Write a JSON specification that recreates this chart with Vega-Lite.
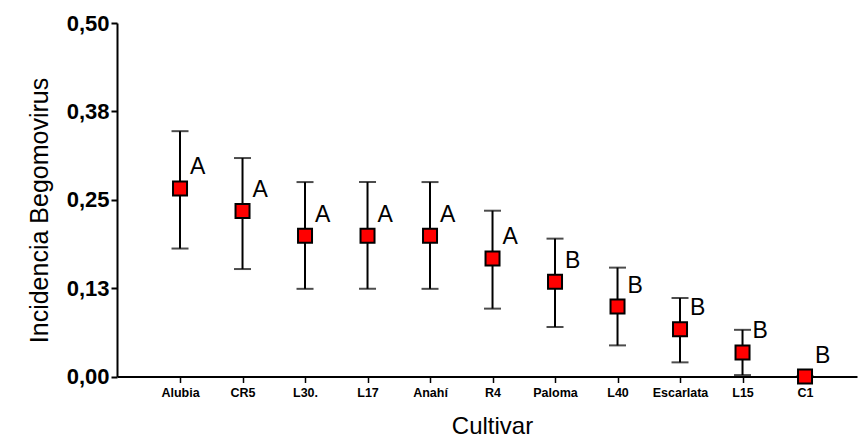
{
  "$schema": "https://vega.github.io/schema/vega-lite/v6.json",
  "autosize": {"type": "none"},
  "padding": {"left": 117, "top": 23, "right": 2, "bottom": 62},
  "width": 740,
  "height": 353.5,
  "background": "white",
  "config": {
    "view": {"stroke": null},
    "font": "Liberation Sans"
  },
  "data": {
    "values": [
      {"cultivar": "Alubia", "mean": 0.266, "lo": 0.181, "hi": 0.347, "group": "A"},
      {"cultivar": "CR5", "mean": 0.234, "lo": 0.152, "hi": 0.309, "group": "A"},
      {"cultivar": "L30.", "mean": 0.199, "lo": 0.124, "hi": 0.275, "group": "A"},
      {"cultivar": "L17", "mean": 0.199, "lo": 0.124, "hi": 0.275, "group": "A"},
      {"cultivar": "Anahí", "mean": 0.199, "lo": 0.124, "hi": 0.275, "group": "A"},
      {"cultivar": "R4", "mean": 0.167, "lo": 0.096, "hi": 0.2345, "group": "A"},
      {"cultivar": "Paloma", "mean": 0.134, "lo": 0.070, "hi": 0.195, "group": "B"},
      {"cultivar": "L40", "mean": 0.099, "lo": 0.044, "hi": 0.154, "group": "B"},
      {"cultivar": "Escarlata", "mean": 0.067, "lo": 0.020, "hi": 0.111, "group": "B"},
      {"cultivar": "L15", "mean": 0.034, "lo": 0.002, "hi": 0.066, "group": "B"},
      {"cultivar": "C1", "mean": 0.0, "lo": 0.0, "hi": 0.0, "group": "B"}
    ]
  },
  "encoding": {
    "x": {
      "field": "cultivar",
      "type": "nominal",
      "sort": null,
      "scale": {"type": "point", "padding": 0.92, "align": 0.548},
      "axis": {
        "title": "Cultivar",
        "titleFontSize": 24,
        "titleFontWeight": "normal",
        "titleColor": "black",
        "titleX": 375,
        "titleY": 57,
        "titleBaseline": "alphabetic",
        "titleAnchor": null,
        "labelAngle": 0,
        "labelFontSize": 12.5,
        "labelFontWeight": "bold",
        "labelColor": "black",
        "labelPadding": 4,
        "domainColor": "black",
        "domainWidth": 2,
        "tickColor": "black",
        "tickWidth": 1.5,
        "tickSize": 6,
        "grid": false
      }
    }
  },
  "layer": [
    {
      "mark": {"type": "rule", "color": "black", "strokeWidth": 2},
      "encoding": {
        "y": {
          "field": "lo",
          "type": "quantitative",
          "scale": {"domain": [0, 0.5], "nice": false, "zero": true},
          "axis": {
            "title": "Incidencia Begomovirus",
            "titleFontSize": 25,
            "titleFontWeight": "normal",
            "titleColor": "black",
            "titleX": -78,
            "titleY": 187,
            "titleAngle": -90,
            "titleAlign": "center",
            "titleBaseline": "middle",
            "values": [0, 0.125, 0.25, 0.375, 0.5],
            "labelExpr": "replace(format(datum.value, '.2f'), '.', ',')",
            "labelFontSize": 22,
            "labelFontWeight": "bold",
            "labelColor": "black",
            "labelPadding": 2,
            "domainColor": "black",
            "domainWidth": 2,
            "tickColor": "black",
            "tickWidth": 2,
            "tickSize": 6,
            "grid": false
          }
        },
        "y2": {"field": "hi"}
      }
    },
    {
      "mark": {"type": "tick", "color": "black", "thickness": 2, "size": 17},
      "encoding": {"y": {"field": "hi", "type": "quantitative"}}
    },
    {
      "mark": {"type": "tick", "color": "black", "thickness": 2, "size": 17},
      "encoding": {"y": {"field": "lo", "type": "quantitative"}}
    },
    {
      "mark": {"type": "point", "shape": "square", "filled": true, "fill": "#ff0000", "stroke": "black", "strokeWidth": 2, "size": 196, "opacity": 1},
      "encoding": {"y": {"field": "mean", "type": "quantitative"}}
    },
    {
      "mark": {"type": "text", "align": "left", "baseline": "middle", "dx": 10, "dy": -21, "fontSize": 23, "color": "black"},
      "encoding": {
        "y": {"field": "mean", "type": "quantitative"},
        "text": {"field": "group", "type": "nominal"}
      }
    }
  ]
}
